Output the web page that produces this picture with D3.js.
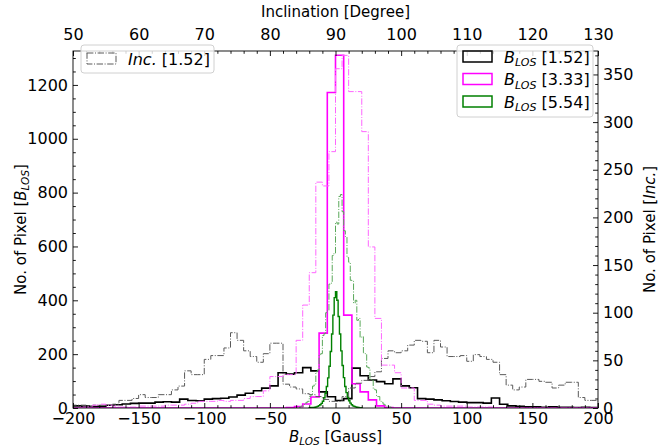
<!DOCTYPE html>
<html><head><meta charset="utf-8">
<script src="https://cdn.jsdelivr.net/npm/d3@7"></script>
<style>body{margin:0;background:#fff}svg{display:block}text{font-family:"DejaVu Sans",sans-serif}</style>
</head><body><svg id="c" width="671" height="446"></svg>
<script>
// ---------- DATA ----------
// B_LOS histograms: 64 bins of 6.25 G from -200 to 200
const bRange = [-200, 200];
const bBinWidth = 6.25;
const blackB = [8,7,5,6,10,12,15,17,18,18,22,23,22,33,28,27,33,35,36,41,48,55,64,74,82,131,126,131,150,138,60,42,28,35,148,120,104,98,90,108,82,75,35,33,30,27,24,22,20,20,18,37,14,8,6,4,4,3,4,3,3,2,3,2];
const magentaB = [0,0,0,0,0,0,0,0,0,0,0,0,0,0,0,0,0,0,0,0,0,0,0,0,0,0,2,5,15,41,278,1172,1310,345,90,60,30,8,2,0,0,0,0,0,0,0,0,0,0,0,0,0,0,0,0,0,0,0,0,0,0,0,0,0];
// green B_LOS: 1 G bins from -20 to 20
const greenBStart = -20, greenBWidth = 1;
const greenB = [1,1,2,2,3,4,6,9,12,17,25,38,55,80,112,155,210,275,345,410,432,400,340,275,212,158,113,80,57,40,27,18,12,8,6,4,3,2,1,1];
// Inclination histograms: 1 degree bins from 50 to 130
const incStart = 50, incWidth = 1;
const grayInc = [3,3,2,3,3,3,4,8,8,10,14,11,11,14,14,19,23,39,35,35,51,55,55,63,79,71,60,54,48,57,68,68,25,22,20,15,14,12,9,7,7,12,21,26,29,33,38,52,60,58,60,66,71,70,58,71,64,54,54,55,49,56,54,51,48,35,24,19,22,30,30,28,27,21,24,27,27,11,8,8];
const pinkInc = [0,1,1,3,4,3,2,1,1,1,2,2,2,2,3,3,3,4,5,7,7,7,8,7,8,8,10,12,12,18,33,33,35,35,71,108,142,237,233,269,356,370,332,332,290,169,94,45,45,37,21,21,8,8,4,3,2,2,2,2,1,1,1,1,0,0,0,0,0,0,0,0,0,0,0,0,0,0,0,0];
// green inclination: 0.25 degree bins from 84.5
const greenIncStart = 84.5, greenIncWidth = 0.25;
const greenInc = [1,2,2,4,6,7,12,14,23,25,38,40,56,57,76,78,100,102,130,131,160,162,195,193,222,224,206,186,180,158,153,134,133,110,113,92,94,74,75,58,57,43,42,30,29,20,19,12,12,7,6,4,3,2,1,1];
// ticks
const bTicks = [-200,-150,-100,-50,0,50,100,150,200];
const incTicks = [50,60,70,80,90,100,110,120,130];
const leftTicks = [0,200,400,600,800,1000,1200];
const rightTicks = [0,50,100,150,200,250,300,350];
const leftMax = 1326, rightMax = 374.6;

// ---------- LAYOUT ----------
const L = 73, R = 598, T = 51, B = 408;
const svg = d3.select("#c");
const x = d3.scaleLinear().domain(bRange).range([L, R]);
const xi = d3.scaleLinear().domain([50,130]).range([L, R]);
const y = d3.scaleLinear().domain([0, leftMax]).range([B, T]);
const yr = d3.scaleLinear().domain([0, rightMax]).range([B, T]);

svg.append("defs").append("clipPath").attr("id","clip")
  .append("rect").attr("x",L).attr("y",T).attr("width",R-L).attr("height",B-T);

function stepPts(start, width, vals){
  const pts = [[start,0]];
  vals.forEach((v,i)=>{ pts.push([start+i*width, v]); pts.push([start+(i+1)*width, v]); });
  pts.push([start+vals.length*width, 0]);
  return pts;
}
const g = svg.append("g").attr("clip-path","url(#clip)");
function drawStep(vals, start, width, xs, ys, color, lw, dash){
  const line = d3.line().x(d=>xs(d[0])).y(d=>ys(d[1]));
  g.append("path").attr("d", line(stepPts(start,width,vals)))
    .attr("fill","none").attr("stroke",color).attr("stroke-width",lw)
    .attr("stroke-dasharray", dash || null).attr("stroke-linejoin","miter");
}
const dd = "6.4,1.6,1,1.6";
drawStep(blackB, bRange[0], bBinWidth, x, y, "#000", 1.6);
drawStep(magentaB, bRange[0], bBinWidth, x, y, "#ff00ff", 1.6);
drawStep(greenB, greenBStart, greenBWidth, x, y, "#008000", 1.4);
drawStep(grayInc, incStart, incWidth, xi, yr, "#5a5a5a", 1, dd);
drawStep(pinkInc, incStart, incWidth, xi, yr, "#ff66ff", 1, dd);
drawStep(greenInc, greenIncStart, greenIncWidth, xi, yr, "#5aa85a", 1, dd);

// ---------- AXES ----------
const fs = 16, fl = 15;
function ax(axisGen, tx, ty){
  const a = svg.append("g").attr("transform",`translate(${tx},${ty})`).call(axisGen);
  a.select(".domain").remove();
  a.selectAll("line").attr("stroke","#000").attr("stroke-width",0.9);
  a.selectAll("text").attr("font-size",fs).attr("fill","#000").style("font-family","DejaVu Sans");
  return a;
}
const fmt = d=> d<0 ? "\u2212"+Math.abs(d) : String(d);
// major
ax(d3.axisBottom(x).tickValues(bTicks).tickSize(-5).tickPadding(5).tickFormat(fmt), 0, B);
ax(d3.axisTop(xi).tickValues(incTicks).tickSize(-5).tickPadding(11).tickFormat(fmt), 0, T);
ax(d3.axisLeft(y).tickValues(leftTicks).tickSize(-5).tickPadding(5).tickFormat(fmt), L, 0);
ax(d3.axisRight(yr).tickValues(rightTicks).tickSize(-5).tickPadding(5).tickFormat(fmt), R, 0);
// minor
const minorB = d3.range(-200,201,10).filter(v=>v%50!==0);
const minorI = d3.range(50,131,2).filter(v=>v%10!==0);
const minorL = d3.range(0,1326,50).filter(v=>v%200!==0);
const minorR = d3.range(0,375,10).filter(v=>v%50!==0);
ax(d3.axisBottom(x).tickValues(minorB).tickSize(-2.8).tickFormat(""), 0, B);
ax(d3.axisTop(xi).tickValues(minorI).tickSize(-2.8).tickFormat(""), 0, T);
ax(d3.axisLeft(y).tickValues(minorL).tickSize(-2.8).tickFormat(""), L, 0);
ax(d3.axisRight(yr).tickValues(minorR).tickSize(-2.8).tickFormat(""), R, 0);

svg.append("rect").attr("x",L).attr("y",T).attr("width",R-L).attr("height",B-T)
  .attr("fill","none").attr("stroke","#000").attr("stroke-width",0.9);

// axis labels
svg.append("text").attr("x",(L+R)/2).attr("y",441.5).attr("text-anchor","middle").attr("font-size",fl)
  .html('<tspan font-style="italic">B</tspan><tspan font-style="italic" font-size="10.5" dy="3">LOS</tspan><tspan dy="-3"> [Gauss]</tspan>');
svg.append("text").attr("x",(L+R)/2).attr("y",17).attr("text-anchor","middle").attr("font-size",fl)
  .text("Inclination [Degree]");
svg.append("text").attr("transform",`translate(26,${(T+B)/2}) rotate(-90)`).attr("text-anchor","middle").attr("font-size",fl)
  .html('No. of Pixel [<tspan font-style="italic">B</tspan><tspan font-style="italic" font-size="10.5" dy="3">LOS</tspan><tspan dy="-3">]</tspan>');
svg.append("text").attr("transform",`translate(655,${(T+B)/2}) rotate(-90)`).attr("text-anchor","middle").attr("font-size",fl)
  .html('No. of Pixel [<tspan font-style="italic">Inc.</tspan>]');

// ---------- LEGENDS ----------
function legBox(x0,y0,w,h){
  svg.append("rect").attr("x",x0).attr("y",y0).attr("width",w).attr("height",h).attr("rx",3)
    .attr("fill","#fff").attr("fill-opacity",0.8).attr("stroke","#d0d0d0").attr("stroke-width",1);
}
legBox(81,45,133,28);
svg.append("rect").attr("x",87).attr("y",53).attr("width",29).attr("height",11)
  .attr("fill","none").attr("stroke","#5a5a5a").attr("stroke-width",1).attr("stroke-dasharray",dd);
svg.append("text").attr("x",128).attr("y",64.5).attr("font-size",fs)
  .html('<tspan font-style="italic">Inc.</tspan> [1.52]');

const legR = [{c:"#000",t:"[1.52]"},{c:"#ff00ff",t:"[3.33]"},{c:"#008000",t:"[5.54]"}];
legBox(457,45,136,72);
legR.forEach((d,i)=>{
  const yy = 51 + i*22.5;
  svg.append("rect").attr("x",463).attr("y",yy).attr("width",29).attr("height",11)
    .attr("fill","none").attr("stroke",d.c).attr("stroke-width",1.5);
  svg.append("text").attr("x",504).attr("y",yy+11.5).attr("font-size",fs)
    .html(`<tspan font-style="italic">B</tspan><tspan font-style="italic" font-size="11" dy="3.5">LOS</tspan><tspan dy="-3.5"> ${d.t}</tspan>`);
});
</script></body></html>
